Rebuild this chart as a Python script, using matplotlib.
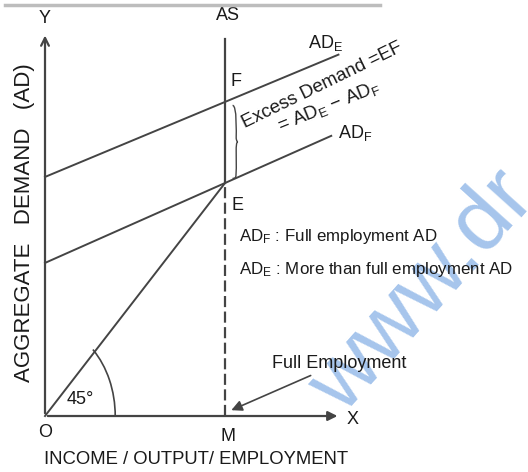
import matplotlib
matplotlib.use('Agg')
import matplotlib.pyplot as plt
from matplotlib.patches import Arc, PathPatch
from matplotlib.path import Path

plt.rcParams['font.family'] = ['Liberation Sans', 'DejaVu Sans']
plt.rcParams['mathtext.fontset'] = 'custom'
plt.rcParams['mathtext.rm'] = 'Liberation Sans'
plt.rcParams['mathtext.it'] = 'Liberation Sans'

# values (O = origin, 45 degree line is y = x)
full_income = 10.0            # M
ade_intercept = 10.26
ade_at_full = 13.48           # point F
adf_intercept = 6.57
adf_at_full = 10.0            # point E
ade_end = 16.3
adf_end = 15.9
x_axis_end = 16.4
y_axis_end = 16.45
as_top = 16.2

INK = '#444444'

fig = plt.figure(figsize=(5.28, 4.72), dpi=100)
ax = fig.add_axes([0, 0, 1, 1])
ax.set_xlim(-2.5, 26.83)
ax.set_ylim(-2.403, 17.854)
ax.axis('off')

# top border strip
fig.add_artist(plt.Line2D([0.01, 0.72], [0.99, 0.99], color='#bdbdbd', lw=2.5,
                          transform=fig.transFigure))

# watermark (cut by the right edge, as in the source)
ax.text(21.0, 5.3, 'www.dr', color='#a6c5ec', fontsize=64, rotation=48,
        ha='center', va='center', zorder=0)

# axes
ax.annotate('', xy=(0, y_axis_end), xytext=(0, 0),
            arrowprops=dict(arrowstyle='->', color=INK, lw=1.6, mutation_scale=14))
ax.annotate('', xy=(x_axis_end, 0), xytext=(0, 0),
            arrowprops=dict(arrowstyle='-|>', color=INK, lw=1.6, mutation_scale=14))

# AS line: solid above E, dashed below
ax.plot([full_income, full_income], [adf_at_full, as_top], color=INK, lw=1.6)
ax.plot([full_income, full_income], [0, adf_at_full], color=INK, lw=1.6,
        dashes=(5, 2))

# 45 degree line
ax.plot([0, full_income], [0, adf_at_full], color=INK, lw=1.4)

# AD lines
ade_slope = (ade_at_full - ade_intercept) / full_income
adf_slope = (adf_at_full - adf_intercept) / full_income
ax.plot([0, ade_end], [ade_intercept, ade_intercept + ade_slope * ade_end], color=INK, lw=1.4)
ax.plot([0, adf_end], [adf_intercept, adf_intercept + adf_slope * adf_end], color=INK, lw=1.4)

# 45 degree arc
ax.add_patch(Arc((0, 0), 7.8, 7.8, theta1=0, theta2=47, color=INK, lw=1.2))
ax.text(1.95, 0.7, '45°', fontsize=13, ha='center', va='center', color='#1a1a1a')

# brace between F and E
bx, tip = 10.42, 10.72
top, bot = ade_at_full - 0.15, adf_at_full + 0.2
mid = (top + bot) / 2
verts = [(bx, top), (bx + 0.25, top), (bx + 0.2, mid + 0.4), (bx + 0.2, mid + 0.2),
         (bx + 0.2, mid), (tip, mid), (tip, mid),
         (bx + 0.2, mid), (bx + 0.2, mid - 0.2), (bx + 0.2, mid - 0.4),
         (bx + 0.2, bot), (bx + 0.25, bot), (bx, bot)]
codes = [Path.MOVETO] + [Path.CURVE4] * 12
ax.add_patch(PathPatch(Path(verts, codes), fill=False, color=INK, lw=1.0))

# point labels
txt = dict(color='#1a1a1a', fontsize=13, ha='center', va='center')
ax.text(0, 17.08, 'Y', **txt)
ax.text(17.1, -0.15, 'X', **txt)
ax.text(0, -0.72, 'O', **txt)
ax.text(10.17, -0.88, 'M', **txt)
ax.text(10.17, 17.2, 'AS', **txt)
ax.text(10.62, 14.35, 'F', **txt)
ax.text(10.67, 9.05, 'E', **txt)
ax.text(15.6, 16.0, r'AD$_\mathrm{E}$', **txt)
ax.text(17.25, 12.15, r'AD$_\mathrm{F}$', **txt)

# excess demand note
ax.text(11.1, 12.35, 'Excess Demand =EF', color='#1a1a1a', fontsize=13.5,
        rotation=26, rotation_mode='anchor', ha='left', va='baseline')
ax.text(13.05, 12.2, r'= AD$_\mathrm{E}$ $-$ AD$_\mathrm{F}$', color='#1a1a1a', fontsize=13.5,
        rotation=22, rotation_mode='anchor', ha='left', va='baseline')

# legend notes
ax.text(10.8, 7.7, r'AD$_\mathrm{F}$ : Full employment AD', color='#1a1a1a',
        fontsize=12.2, ha='left', va='center')
ax.text(10.8, 6.28, r'AD$_\mathrm{E}$ : More than full employment AD', color='#1a1a1a',
        fontsize=12.2, ha='left', va='center')

# full employment arrow
ax.annotate('Full Employment', xy=(10.35, 0.25), xytext=(12.6, 2.27),
            fontsize=13, color='#1a1a1a', ha='left', va='center',
            arrowprops=dict(arrowstyle='-|>', color=INK, lw=1.2, mutation_scale=16,
                            shrinkA=2, shrinkB=0))

# axis titles
ax.text(-1.12, 8.3, 'AGGREGATE   DEMAND   (AD)', rotation=90, fontsize=16,
        ha='center', va='center', color='#1a1a1a')
ax.text(8.4, -1.85, 'INCOME / OUTPUT/ EMPLOYMENT', fontsize=13.3,
        ha='center', va='center', color='#1a1a1a')

fig.savefig('out.png', dpi=100)
